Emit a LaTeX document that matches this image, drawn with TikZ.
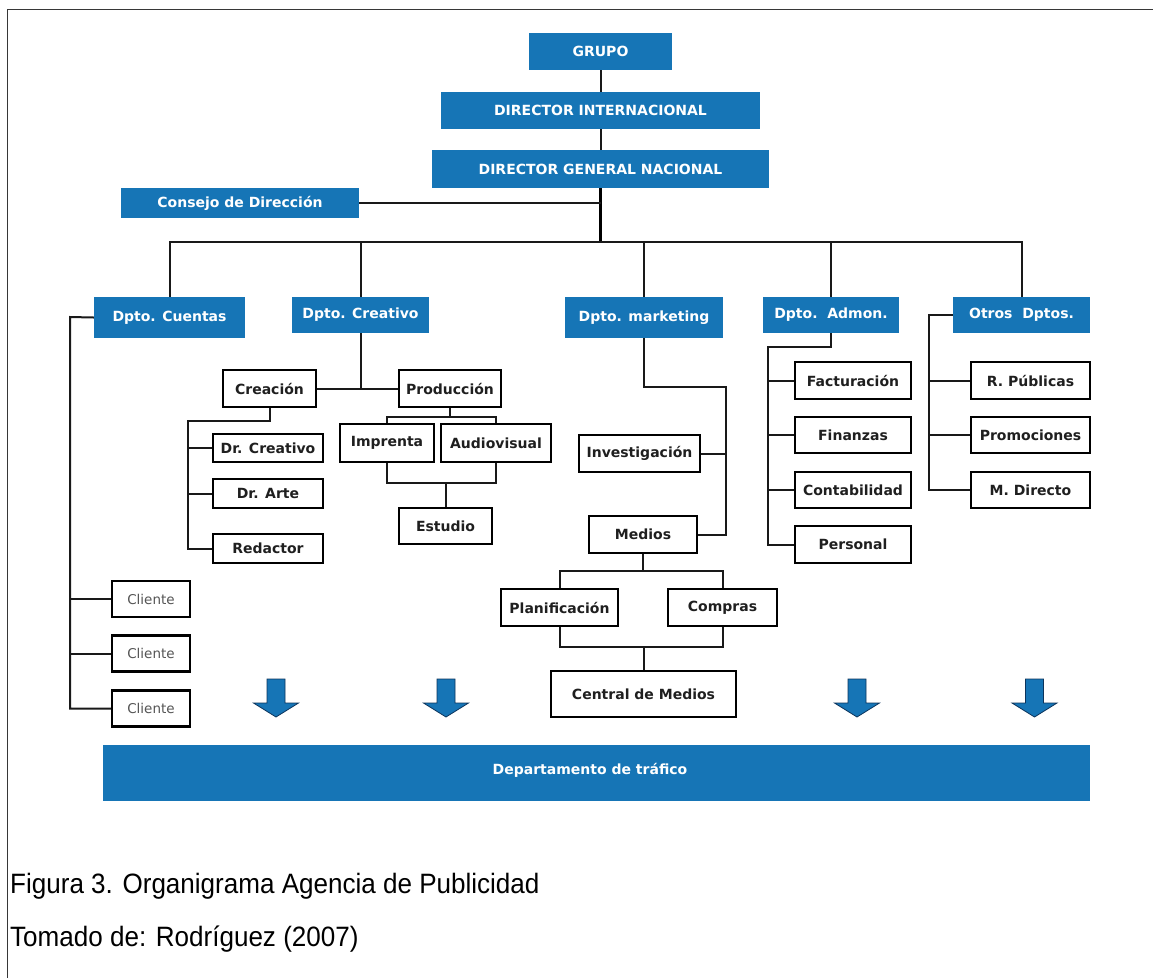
\documentclass[tikz,border=0pt]{standalone}
\usepackage{fontspec}
\newfontfamily\dv{DejaVu Sans}
\newfontfamily\capfont[FakeStretch=0.93]{Liberation Sans}
\definecolor{orgblue}{RGB}{22,117,182}
\definecolor{arrowdark}{RGB}{12,52,92}
\definecolor{framegray}{RGB}{55,55,55}
\definecolor{clientgray}{RGB}{85,85,85}
\begin{document}
\begin{tikzpicture}[x=1pt,y=-1pt,
  bbox/.style={fill=orgblue, draw=none, text=white, inner sep=0pt,
    font=\dv\bfseries\fontsize{14}{16}\selectfont},
  wbox/.style={draw=black, fill=white, line width=2.2pt, inner sep=0pt, text=black!88,
    font=\dv\bfseries\fontsize{14}{16}\selectfont},
  cbox/.style={draw=black, fill=white, line width=2.2pt, inner sep=0pt, text=clientgray,
    font=\dv\fontsize{13.5}{16}\selectfont, minimum width=78, minimum height=36},
  conn/.style={draw=black!90, line width=2pt},
  trunk/.style={draw=black, line width=3.4pt},
  caption/.style={anchor=base west, inner sep=0pt, font=\capfont\fontsize{28}{32}\selectfont}]

\useasboundingbox (0,0) rectangle (1153,978);

% page frame
\draw[framegray, line width=1.5pt] (7.5,978) -- (7.5,9.5) -- (1153,9.5);

% top of the hierarchy
\node[bbox, minimum width=143, minimum height=37] (grupo) at (600.5,51.5) {GRUPO};
\node[bbox, minimum width=319, minimum height=37] (dint) at (600.5,110.5) {DIRECTOR INTERNACIONAL};
\node[bbox, minimum width=337, minimum height=38] (dgn) at (600.5,169) {DIRECTOR GENERAL NACIONAL};
\node[bbox, minimum width=238, minimum height=30] (consejo) at (240,203) {Consejo de Dirección};

% departments
\node[bbox, minimum width=151, minimum height=41] (cuentas) at (169.5,317.5) {Dpto. Cuentas};
\node[bbox, minimum width=137, minimum height=36] (creativo) at (360.5,315) {Dpto. Creativo};
\node[bbox, minimum width=158, minimum height=41] (marketing) at (644,317.5) {Dpto. marketing};
\node[bbox, minimum width=136, minimum height=36] (admon) at (831,315) {Dpto.\ \ Admon.};
\node[bbox, minimum width=137, minimum height=36] (otros) at (1021.5,315) {Otros\ \ Dptos.};

% creative department
\node[wbox, minimum width=93, minimum height=37] (creacion) at (269.5,388.5) {Creación};
\node[wbox, minimum width=102, minimum height=37] (produccion) at (450,388.5) {Producción};
\node[wbox, minimum width=110, minimum height=28] (drcreativo) at (268,448) {Dr. Creativo};
\node[wbox, minimum width=110, minimum height=29] (drarte) at (268,493.5) {Dr. Arte};
\node[wbox, minimum width=110, minimum height=29] (redactor) at (268,548.5) {Redactor};
\node[wbox, minimum width=94, minimum height=38] (imprenta) at (387,443) {Imprenta};
\node[wbox, minimum width=110, minimum height=38] (audiovisual) at (496,443) {Audiovisual};
\node[wbox, minimum width=93, minimum height=36] (estudio) at (445.5,526) {Estudio};

% accounts
\node[cbox] (cliente1) at (151,599) {Cliente};
\node[cbox] (cliente2) at (151,653.5) {Cliente};
\node[cbox] (cliente3) at (151,708.5) {Cliente};

% marketing
\node[wbox, minimum width=121, minimum height=37] (investigacion) at (639.5,453.5) {Investigación};
\node[wbox, minimum width=108, minimum height=37] (medios) at (643,534.5) {Medios};
\node[wbox, minimum width=117, minimum height=37] (planificacion) at (559.5,607.5) {Planificación};
\node[wbox, minimum width=109, minimum height=37] (compras) at (722.5,607.5) {Compras};
\node[wbox, minimum width=185, minimum height=46] (central) at (643.5,694) {Central de Medios};

% administration
\node[wbox, minimum width=116, minimum height=37] (facturacion) at (853,380.5) {Facturación};
\node[wbox, minimum width=116, minimum height=36] (finanzas) at (853,435) {Finanzas};
\node[wbox, minimum width=116, minimum height=36] (contabilidad) at (853,490) {Contabilidad};
\node[wbox, minimum width=116, minimum height=37] (personal) at (853,544.5) {Personal};

% other departments
\node[wbox, minimum width=119, minimum height=37] (rpublicas) at (1030.5,380.5) {R. Públicas};
\node[wbox, minimum width=119, minimum height=36] (promociones) at (1030.5,435) {Promociones};
\node[wbox, minimum width=119, minimum height=36] (mdirecto) at (1030.5,490) {M. Directo};

% traffic department
\node[bbox, minimum width=987, minimum height=56] (trafico) at (596.5,773) {};
\node[text=white, inner sep=0pt, font=\dv\bfseries\fontsize{14}{16}\selectfont]
  (traficotxt) at (590,770) {Departamento de tráfico};

% junction points
\coordinate (hub) at (600.5,242);
\coordinate (cuS) at (70,317);
\coordinate (crS) at (188,421);
\coordinate (prJ) at (450,417);
\coordinate (esJ) at (445.5,483);
\coordinate (mkJ) at (726,387);
\coordinate (meJ) at (643,571);
\coordinate (ceJ) at (643.5,647);
\coordinate (adJ) at (768,347);
\coordinate (otJ) at (929,315);

% main line
\draw[conn] (grupo.south) -- (dint.north);
\draw[conn] (dint.south) -- (dgn.north);
\draw[trunk] (dgn.south) -- (hub);
\draw[conn] (consejo.east) -- (consejo.east -| hub);
\foreach \d in {cuentas,creativo,marketing,admon,otros}
  \draw[conn] (\d.north) |- (hub);

% accounts
\draw[conn] (cuentas.west) -- (cuS) |- (cliente3.west);
\draw[conn] (cliente1.west) -- (cliente1.west -| cuS);
\draw[conn] (cliente2.west) -- (cliente2.west -| cuS);

% creative
\draw[conn] (creativo.south) -- (creativo.south |- creacion.east);
\draw[conn] (creacion.east) -- (produccion.west);
\draw[conn] (creacion.south) |- (crS) |- (redactor.west);
\draw[conn] (drcreativo.west) -- (drcreativo.west -| crS);
\draw[conn] (drarte.west) -- (drarte.west -| crS);
\draw[conn] (produccion.south) -- (prJ);
\draw[conn] (imprenta.north) |- (prJ);
\draw[conn] (audiovisual.north) |- (prJ);
\draw[conn] (imprenta.south) |- (esJ);
\draw[conn] (audiovisual.south) |- (esJ);
\draw[conn] (esJ) -- (estudio.north);

% marketing
\draw[conn] (marketing.south) |- (mkJ) |- (medios.east);
\draw[conn] (investigacion.east) -- (investigacion.east -| mkJ);
\draw[conn] (medios.south) -- (meJ);
\draw[conn] (planificacion.north) |- (meJ);
\draw[conn] (compras.north) |- (meJ);
\draw[conn] (planificacion.south) |- (ceJ);
\draw[conn] (compras.south) |- (ceJ);
\draw[conn] (ceJ) -- (central.north);

% administration
\draw[conn] (admon.south) |- (adJ) |- (personal.west);
\foreach \b in {facturacion,finanzas,contabilidad}
  \draw[conn] (\b.west) -- (\b.west -| adJ);

% other departments
\draw[conn] (otros.west) -- (otJ) |- (mdirecto.west);
\foreach \b in {rpublicas,promociones}
  \draw[conn] (\b.west) -- (\b.west -| otJ);

% flow arrows towards the traffic department
\foreach \ax in {276,446,857,1034.5}
  \filldraw[fill=orgblue, draw=arrowdark, line width=0.8pt, line join=miter]
    (\ax-9,679) -- (\ax+9,679) -- (\ax+9,703) -- (\ax+22.5,703)
    -- (\ax,717) -- (\ax-22.5,703) -- (\ax-9,703) -- cycle;

% caption
\node[caption] (cap1) at (10,893) {Figura 3. Organigrama Agencia de Publicidad};
\node[caption] (cap2) at (10,946) {Tomado de: Rodríguez (2007)};
\end{tikzpicture}
\end{document}
